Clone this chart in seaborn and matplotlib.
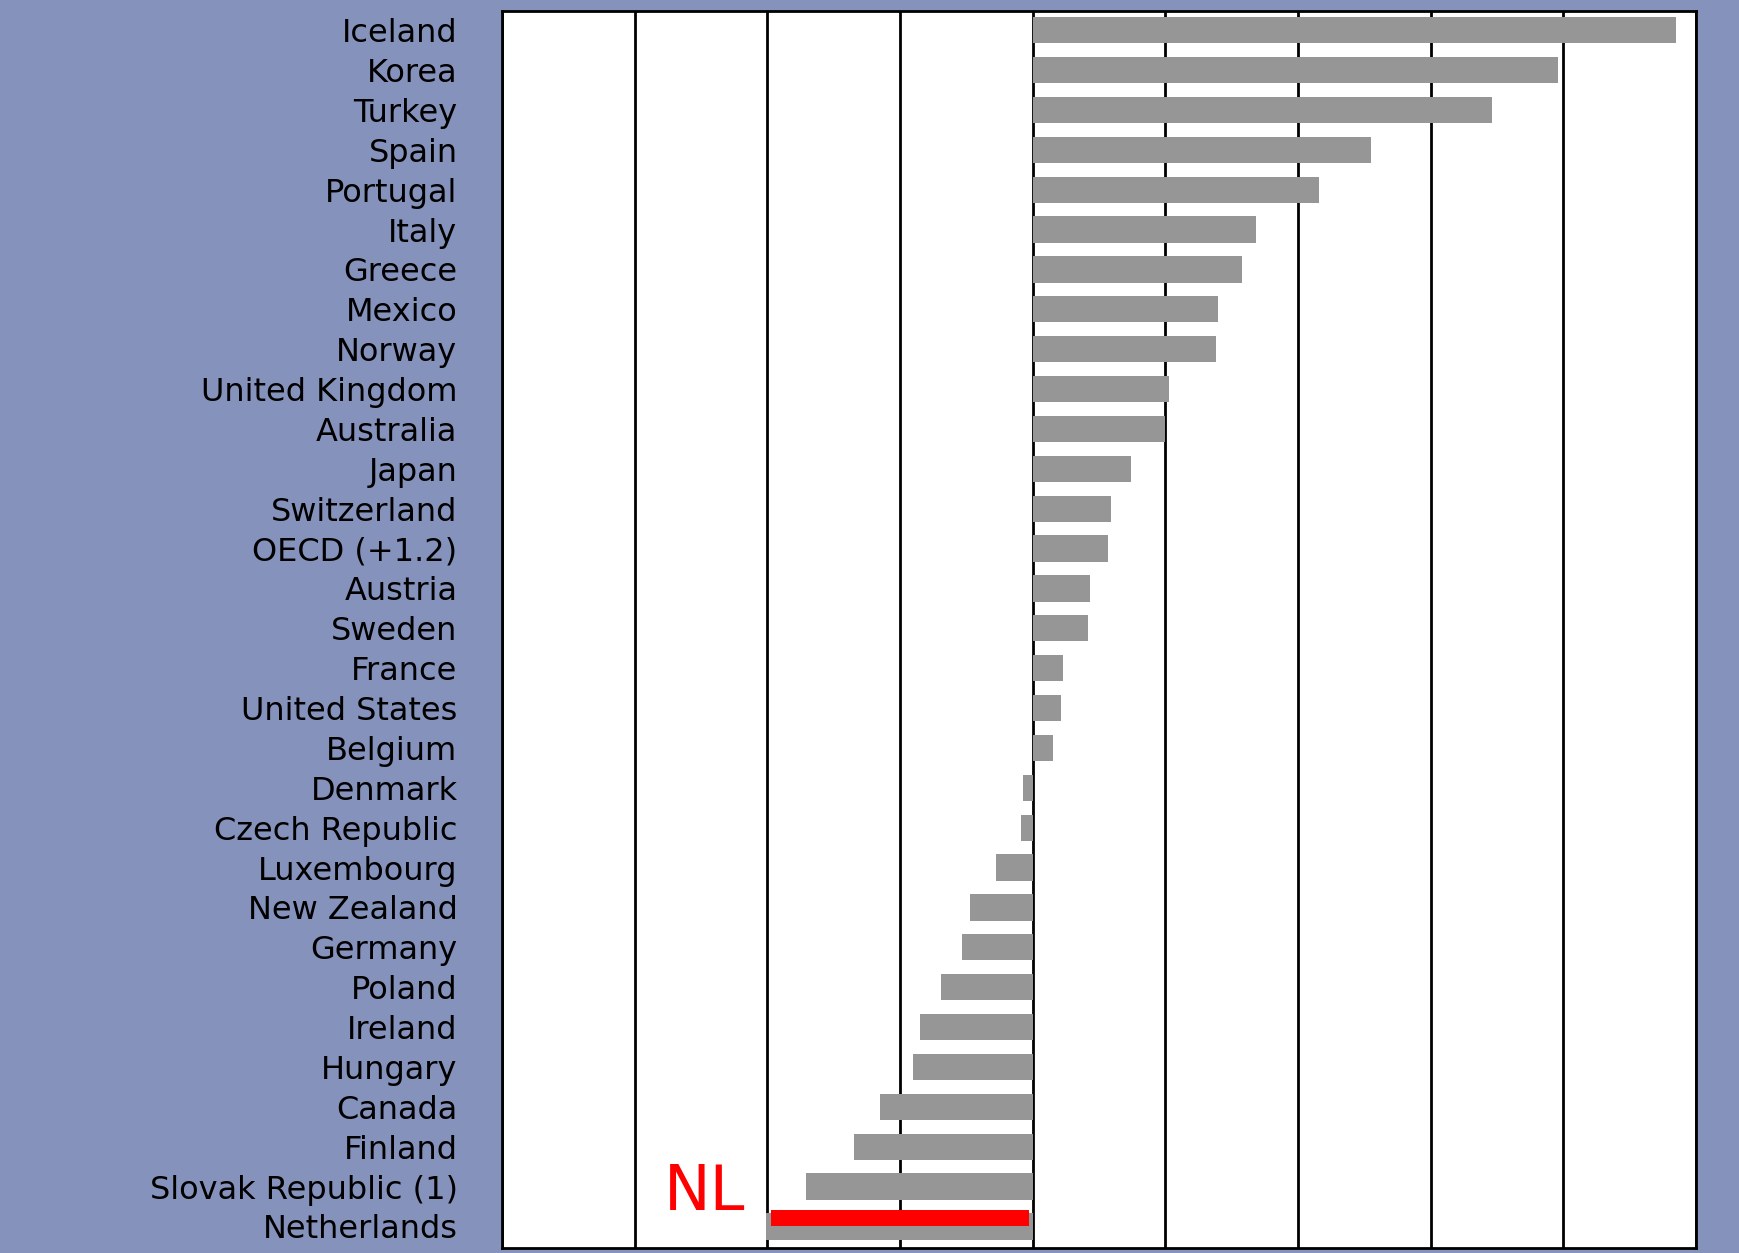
import matplotlib
matplotlib.use("Agg")
import matplotlib.pyplot as plt
import seaborn as sns
import pandas as pd

# data (one grid step = 1 unit)
countries = ["Iceland", "Korea", "Turkey", "Spain", "Portugal", "Italy", "Greece",
             "Mexico", "Norway", "United Kingdom", "Australia", "Japan", "Switzerland",
             "OECD (+1.2)", "Austria", "Sweden", "France", "United States", "Belgium",
             "Denmark", "Czech Republic", "Luxembourg", "New Zealand", "Germany",
             "Poland", "Ireland", "Hungary", "Canada", "Finland",
             "Slovak Republic (1)", "Netherlands"]
values = [4.85, 3.96, 3.46, 2.55, 2.16, 1.68, 1.58, 1.40, 1.38, 1.03, 1.00, 0.74,
          0.59, 0.57, 0.43, 0.42, 0.23, 0.21, 0.15, -0.07, -0.09, -0.28, -0.47,
          -0.53, -0.69, -0.85, -0.90, -1.15, -1.35, -1.71, -2.01]

# red highlight drawn over the Netherlands bar
nl_label = "NL"
nl_start = -1.97
nl_end = -0.03
nl_text_x = -2.47

df = pd.DataFrame({"country": countries, "value": values})

bg = "#8592bc"
sns.set_theme(style="white")
plt.rcParams["font.family"] = ["DejaVu Sans"]

fig = plt.figure(figsize=(17.39, 12.53), dpi=100, facecolor=bg)
ax = fig.add_axes([0.2887, 0.004, 0.6866, 0.9872])
ax.set_facecolor("white")

sns.barplot(data=df, x="value", y="country", orient="h", color="#969696",
            saturation=1, width=0.66, linewidth=0, ax=ax, zorder=3)

# highlight bar and NL label
nl_row = countries.index("Netherlands")
ax.barh(nl_row - 0.21, nl_end - nl_start, left=nl_start, height=0.40,
        color="#ff0000", linewidth=0, zorder=4)
ax.text(nl_text_x, nl_row - 0.85, nl_label, color="#ff0000", fontsize=45,
        family=["Liberation Sans Narrow", "DejaVu Sans"],
        ha="center", va="center", zorder=5)

ax.set_xlim(-4, 5)
ax.set_ylim(len(countries) - 0.46, -0.48)
ax.set_xticks(range(-4, 6))
ax.set_xticklabels([])
ax.grid(axis="x", color="black", linewidth=2, zorder=1)
ax.set_axisbelow(True)
ax.tick_params(axis="both", length=0)
ax.tick_params(axis="y", labelsize=23, pad=32, colors="black")
ax.set_xlabel("")
ax.set_ylabel("")
for s in ax.spines.values():
    s.set_visible(True)
    s.set_color("black")
    s.set_linewidth(2)

fig.savefig("out.png", dpi=100, facecolor=bg)
